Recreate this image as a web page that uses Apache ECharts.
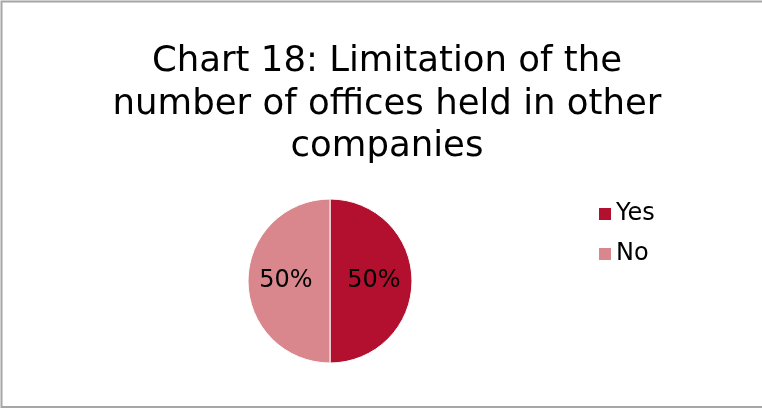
<!DOCTYPE html>
<html>
<head>
<meta charset="utf-8">
<script src="https://cdn.jsdelivr.net/npm/echarts@6/dist/echarts.min.js"></script>
<style>html,body{margin:0;padding:0;background:#fff}#c{width:762px;height:409px}</style>
</head>
<body>
<div id="c"></div>
<script>
const categories = ["Yes", "No"];
const values = [50, 50];
const colors = ["#B2102E", "#D9868C"];
const titleText = "Chart 18: Limitation of the\nnumber of offices held in other\ncompanies";

const chart = echarts.init(document.getElementById('c'), null, {renderer: 'canvas'});
const FONT = '"DejaVu Sans", sans-serif';
chart.setOption({
  backgroundColor: '#fff',
  animation: false,
  title: {
    text: titleText,
    left: 382, top: 36, textAlign: 'center',
    textStyle: {fontFamily: FONT, fontSize: 35.5, fontWeight: 'normal', color: '#000', lineHeight: 42.5}
  },
  legend: {
    orient: 'vertical',
    left: 592, top: 197,
    itemWidth: 14, itemHeight: 14, itemGap: 16,
    icon: 'rect',
    textStyle: {fontFamily: FONT, fontSize: 24, color: '#000', lineHeight: 24, padding: [0,0,0,-1]},
    data: categories
  },
  graphic: [{
    type: 'rect', shape: {x: 1.5, y: 1.5, width: 770, height: 405.5},
    style: {fill: 'none', stroke: '#A6A6A6', lineWidth: 2}, silent: true
  }],
  series: [{
    type: 'pie',
    center: [330, 281], radius: 82,
    startAngle: 90, clockwise: true,
    itemStyle: {borderColor: '#fff', borderWidth: 1},
    label: {position: 'inside', formatter: '{d}%', fontFamily: FONT, fontSize: 24, color: '#000'},
    labelLine: {show: false},
    emphasis: {disabled: true},
    data: categories.map((c, i) => ({name: c, value: values[i], itemStyle: {color: colors[i]}}))
  }]
});
</script>
</body>
</html>
